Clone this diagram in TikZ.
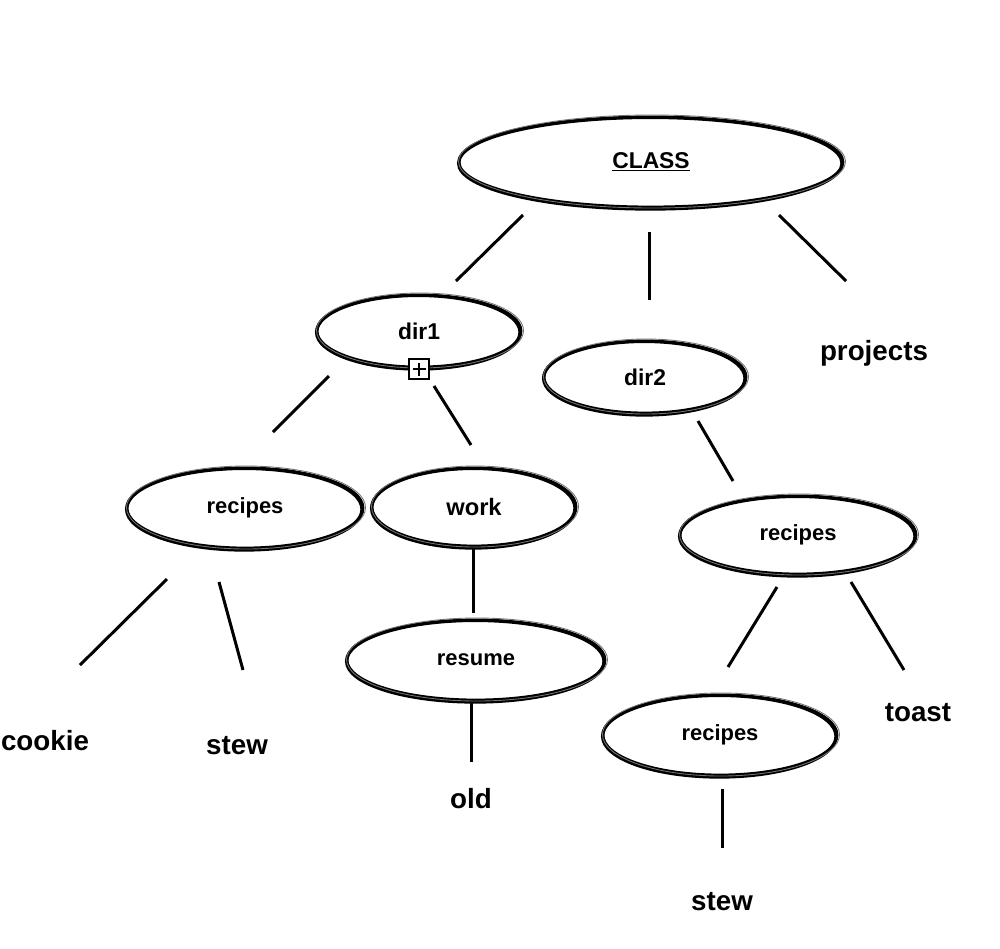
\documentclass[tikz,border=0pt]{standalone}
\usepackage{fontspec}
\setmainfont{Liberation Sans}
\begin{document}
\begin{tikzpicture}[x=0.02cm,y=-0.02cm,
  conn/.style={line width=1.7pt},
  ntext/.style={font=\fontsize{12.5}{14}\selectfont\bfseries, inner sep=0},
  ltext/.style={font=\fontsize{15.8}{18}\selectfont\bfseries, inner sep=0},
  ell/.style={line width=1.6pt},
  ellb/.style={line width=1.8pt},
  ellt/.style={line width=0.5pt, black!55}]
\useasboundingbox (0,0) rectangle (1000,948);
\newcommand\sketchell[3]{%
  \draw[ell] (#1) ellipse ({#2} and {#3});
  \draw[ellb] ([yshift=-0.025cm,xshift=-0.015cm]#1) ellipse ({#2-0.3} and {#3+0.8});
  \draw[ellt] ([yshift=0.01cm,xshift=0.02cm]#1) ellipse ({#2+1.5} and {#3+1.5});
}
% nodes
\node[ntext] (class) at (651,162) {\fontsize{13}{15}\selectfont\underline{CLASS}};
\node[ntext] (dir1) at (419,331) {\fontsize{13}{15}\selectfont dir1};
\node[ntext] (dir2) at (645,377) {\fontsize{13}{15}\selectfont dir2};
\node[ntext] (rec1) at (245,508) {recipes};
\node[ntext] (work) at (474,507) {\fontsize{13.5}{15}\selectfont work};
\node[ntext] (rec2) at (798,535) {recipes};
\node[ntext] (resume) at (476,660) {resume};
\node[ntext] (rec3) at (720,735) {recipes};
\sketchell{class}{192}{45}
\sketchell{dir1}{102}{36}
\sketchell{dir2}{101}{36}
\sketchell{rec1}{118}{40}
\sketchell{work}{102}{39}
\sketchell{rec2}{118}{39}
\sketchell{resume}{129}{40}
\sketchell{rec3}{117}{40}
% plus box
\node[draw, fill=white, line width=1pt, minimum size=0.4cm, inner sep=0] (plus) at (419,369) {};
\draw[line width=0.7pt] ([xshift=-0.13cm]plus.center) -- ([xshift=0.13cm]plus.center);
\draw[line width=0.7pt] ([yshift=-0.13cm]plus.center) -- ([yshift=0.13cm]plus.center);
% leaf labels
\node[ltext] (projects) at (874,353) {projects};
\node[ltext] (cookie) at (45,741) {cookie};
\node[ltext] (stew1) at (237,746) {stew};
\node[ltext] (old) at (471,799) {old};
\node[ltext] (toast) at (918,713) {toast};
\node[ltext] (stew2) at (722,902) {stew};
% connector end points
\coordinate (c1a) at (523,215); \coordinate (c1b) at (456,281);
\coordinate (c2a) at (649,232); \coordinate (c2b) at (649,300);
\coordinate (c3a) at (779,215); \coordinate (c3b) at (846,281);
\coordinate (c4a) at (329,376); \coordinate (c4b) at (273,432);
\coordinate (c5a) at (434,386); \coordinate (c5b) at (471,445);
\coordinate (c6a) at (698,421); \coordinate (c6b) at (733,481);
\coordinate (c7a) at (167,579); \coordinate (c7b) at (80,665);
\coordinate (c8a) at (219,582); \coordinate (c8b) at (243,670);
\coordinate (c9a) at (473,548); \coordinate (c9b) at (473,613);
\coordinate (c10a) at (471,703); \coordinate (c10b) at (471,762);
\coordinate (c11a) at (777,587); \coordinate (c11b) at (728,667);
\coordinate (c12a) at (851,582); \coordinate (c12b) at (904,670);
\coordinate (c13a) at (722,789); \coordinate (c13b) at (722,848);
\foreach \i in {1,...,13} {\draw[conn] (c\i a) -- (c\i b);}
\end{tikzpicture}
\end{document}
